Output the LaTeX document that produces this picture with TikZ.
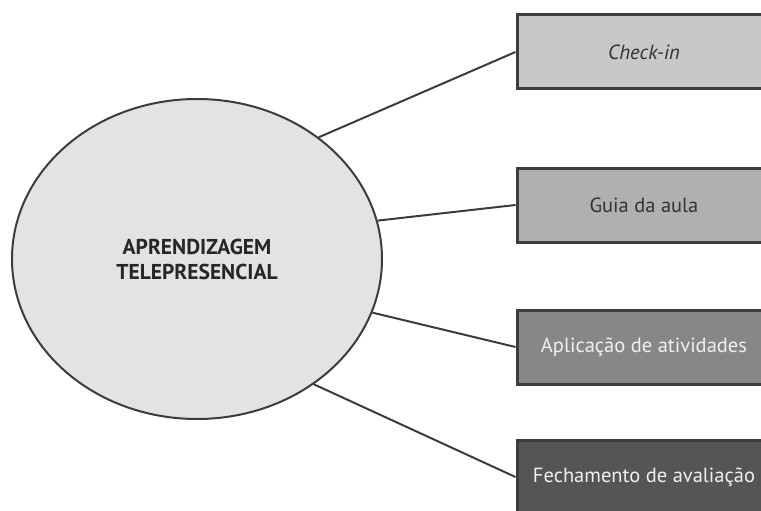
\documentclass[tikz,border=0pt]{standalone}
\usepackage{fontspec}
\setmainfont{PT Sans}
\usetikzlibrary{shapes.geometric}
\definecolor{edge}{RGB}{60,60,60}
\definecolor{ellfill}{RGB}{227,227,227}
\definecolor{boxa}{RGB}{200,200,200}
\definecolor{boxb}{RGB}{176,176,176}
\definecolor{boxc}{RGB}{135,135,135}
\definecolor{boxd}{RGB}{85,85,85}

\begin{document}
\begin{tikzpicture}[x=1pt,y=-1pt,
        stagebox/.style={rectangle,draw=edge,line width=3pt,minimum width=254pt,minimum height=74pt,inner sep=0pt,font=\fontsize{20.5}{24}\selectfont},
        link/.style={draw=edge,line width=2pt}]
        \useasboundingbox (0,0) rectangle (761,511);
        \clip (0,0) rectangle (761,511);
        % centro
        \node[ellipse,draw=edge,fill=ellfill,line width=2pt,minimum width=370pt,minimum height=320pt,inner sep=0pt,align=center,font=\bfseries\fontsize{21.5}{25}\selectfont,text=black!85] (E) at (197,259) {APRENDIZAGEM\\TELEPRESENCIAL};
        % etapas
        \node[stagebox,fill=boxa,text=black!80] (S1) at (644,52) {\itshape Check-in};
        \node[stagebox,fill=boxb,text=black!80] (S2) at (644,205) {Guia da aula};
        \node[stagebox,fill=boxc,text=white!94!black] (S3) at (644,347) {Aplicação de atividades};
        \node[stagebox,fill=boxd,text=white!94!black] (S4) at (644,477) {Fechamento de avaliação};
        \draw[link] (E.45) -- (S1.west);
        \draw[link] (E.12) -- (S2.west);
        \draw[link] (E.-17) -- (S3.west);
        \draw[link] (E.-47) -- (S4.west);
\end{tikzpicture}
\end{document}
